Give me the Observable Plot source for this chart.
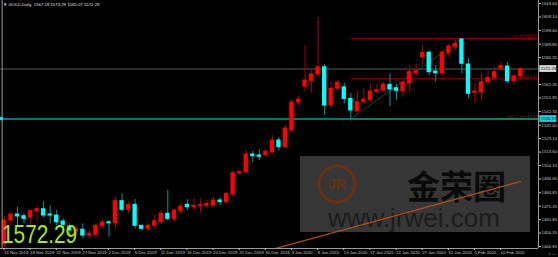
<!DOCTYPE html>
<html><head><meta charset="utf-8">
<script src="https://cdn.jsdelivr.net/npm/d3@7"></script>
<script src="https://cdn.jsdelivr.net/npm/@observablehq/plot@0.6"></script>
<style>
html,body{margin:0;padding:0;background:#000;}
#wrap{position:relative;width:558px;height:257px;overflow:hidden;background:#000;}
#wm{position:absolute;left:300px;top:156px;width:230px;height:76px;background:#363636;}
#chart{position:absolute;left:0;top:0;}
#title{position:absolute;left:3px;top:2px;font:4.3px "Liberation Sans",sans-serif;color:#e0e0e0;white-space:nowrap;}
#big{position:absolute;left:2px;top:219px;font:26px "Liberation Sans",sans-serif;color:#a8e81c;transform:scaleX(0.8);transform-origin:left top;white-space:nowrap;}
</style></head>
<body><div id="wrap">
<div id="wm">
  <svg width="230" height="76" style="position:absolute;left:0;top:0;overflow:visible">
    <circle cx="37" cy="28" r="18" fill="none" stroke="#6a3010" stroke-width="3"/>
    <text x="37" y="33" text-anchor="middle" font-family="Liberation Sans" font-weight="bold" font-size="14" fill="#6a3010">JR</text>
    <text x="107" y="43" font-family="Noto Sans CJK SC" font-weight="bold" font-size="33" fill="#0a0a0a">金荣圈</text>
    <text x="28" y="71" font-family="Liberation Sans" font-size="26" fill="#1c1c1c">www.jrwei.com</text>
  </svg>
</div>
<div id="chart"></div>
<div id="title">▼ GOLD,Daily&nbsp; 1567.18 1573.29 1565.07 1572.29</div>
<div id="big">1572.29</div>
</div>
<script>
const opens = [1448.3,1465.2,1469.5,1468.3,1467.2,1471.8,1473.2,1469.5,1468.8,1464.5,1461.0,1457.5,1458.7,1454.6,1455.3,1461.2,1464.0,1463.3,1478.9,1472.8,1476.3,1461.5,1459.4,1461.5,1464.0,1470.0,1466.4,1471.8,1476.3,1474.6,1475.6,1475.6,1475.8,1479.4,1478.2,1483.6,1498.7,1499.4,1511.9,1511.2,1511.4,1513.3,1521.8,1517.1,1528.9,1548.8,1559.9,1563.7,1568.4,1573.6,1546.5,1558.3,1559.4,1551.2,1542.5,1548.8,1550.5,1556.2,1557.1,1561.1,1558.7,1556.6,1562.3,1569.3,1580.6,1583.8,1570.5,1569.3,1583.5,1587.7,1593.2,1575.5,1555.5,1555.9,1563.0,1566.1,1572.5,1574.1,1563.7,1567.18];
const highs = [1468.1,1471.1,1474.6,1470.0,1472.8,1475.1,1478.7,1475.6,1472.3,1466.4,1462.9,1461.0,1462.9,1458.2,1462.9,1465.7,1465.2,1481.7,1484.1,1478.2,1480.1,1461.5,1462.9,1468.8,1472.3,1486.5,1473.5,1477.5,1479.9,1480.6,1480.6,1479.4,1481.7,1481.3,1485.2,1500.6,1500.6,1514.7,1514.2,1515.2,1515.9,1525.3,1523.9,1532.4,1550.7,1552.9,1588.9,1571.2,1608.7,1575.5,1563.0,1564.2,1562.3,1555.2,1557.1,1558.3,1561.8,1561.4,1563.0,1568.9,1561.4,1564.2,1574.8,1576.0,1588.9,1585.4,1574.8,1585.4,1590.1,1592.5,1593.91,1579.5,1561.8,1568.9,1571.2,1573.6,1577.1,1577.1,1568.9,1573.29];
const lows = [1446.2,1461.7,1461.7,1462.9,1461.7,1464.0,1467.2,1462.9,1461.7,1460.5,1454.6,1455.3,1452.3,1452.3,1452.3,1459.4,1453.4,1459.4,1471.1,1470.0,1459.4,1458.2,1458.2,1459.4,1462.4,1464.7,1464.0,1470.0,1472.3,1472.3,1470.4,1473.5,1474.6,1475.8,1477.0,1482.9,1497.0,1498.5,1506.4,1507.6,1510.0,1512.4,1514.7,1516.1,1527.4,1546.0,1555.9,1555.2,1566.3,1539.4,1546.0,1557.1,1547.7,1536.97,1540.6,1547.7,1548.8,1554.8,1555.9,1545.8,1550.0,1552.4,1555.9,1567.7,1574.8,1567.7,1563.0,1567.7,1580.6,1585.4,1568.9,1551.3,1547.7,1550.0,1560.6,1564.2,1571.2,1561.8,1560.6,1565.07];
const closes = [1465.2,1469.5,1468.1,1466.4,1471.8,1473.2,1468.8,1468.8,1464.0,1462.2,1458.2,1458.7,1454.6,1455.8,1461.5,1463.8,1463.3,1478.9,1472.8,1476.3,1461.5,1459.4,1461.5,1464.7,1470.0,1466.4,1472.3,1475.1,1474.6,1475.6,1476.1,1477.0,1479.4,1478.2,1484.1,1498.7,1499.4,1511.9,1510.7,1510.3,1513.8,1521.8,1517.1,1530.3,1548.6,1550.7,1564.2,1568.4,1573.6,1546.5,1558.3,1562.6,1551.2,1543.0,1548.8,1550.7,1556.4,1557.3,1561.1,1557.8,1556.9,1562.6,1570.1,1570.8,1583.8,1570.1,1569.3,1583.8,1588.2,1590.1,1576.0,1554.8,1556.4,1563.0,1566.1,1570.1,1574.5,1563.7,1567.2,1572.29];
const dateLabels = ["13 Nov 2019","18 Nov 2019","22 Nov 2019","27 Nov 2019","2 Dec 2019","6 Dec 2019","11 Dec 2019","16 Dec 2019","20 Dec 2019","25 Dec 2019","30 Dec 2019","3 Jan 2020","8 Jan 2020","13 Jan 2020","17 Jan 2020","22 Jan 2020","27 Jan 2020","31 Jan 2020","5 Feb 2020","10 Feb 2020"];
const priceTicks = [1618.60,1609.10,1599.60,1589.85,1580.35,1561.35,1551.85,1542.35,1532.60,1523.10,1513.60,1504.10,1494.60,1484.85,1475.35,1465.85,1456.35,1446.85];
const currentPrice = 1572.29;
const hLinePrice = 1536.97;
const fibLevels = [{pct:"0.0", price:1593.91},{pct:"50.0", price:1565.44},{pct:"100.0", price:1536.97}];
const fibStartBar = 53, fibEndBar = 70;
const trendLine = [{i:39.5, p:1443.0},{i:79, p:1492.8}];

const bars = opens.map((o,i)=>({i, o, h:highs[i], l:lows[i], c:closes[i], up: closes[i]>=o}));
const tickIdx = dateLabels.map((_,k)=>k*4);
const XMAX = 81.72;

const chart = Plot.plot({
  width: 558, height: 257,
  marginLeft: 0, marginRight: 20, marginTop: 0, marginBottom: 9,
  style: {background: "transparent", color: "#c8c8c8", fontFamily: "Liberation Sans", fontSize: "4.3px"},
  x: {type: "linear", domain: [-0.6, XMAX], axis: null},
  y: {domain: [1445.46, 1620.72], axis: null},
  marks: [
    Plot.ruleY([currentPrice], {stroke: "#5a5a5a", strokeWidth: 1}),
    Plot.ruleY(fibLevels, {y: "price", x1: fibStartBar, x2: XMAX, stroke: "#8b0000", strokeWidth: 1}),
    Plot.text(fibLevels, {x: XMAX, y: "price", text: d => `${d.pct}  =${d.price.toFixed(2)}`, textAnchor: "end", dx: -1, dy: -2.5, fill: "#a01010", fontSize: 4.3}),
    Plot.line([{i: fibStartBar, p: fibLevels[2].price},{i: fibEndBar, p: fibLevels[0].price}], {x: "i", y: "p", stroke: "#1a7050", strokeWidth: 1, strokeDasharray: "1.2,1.8"}),
    Plot.ruleY([hLinePrice], {stroke: "#0a9a9a", strokeWidth: 1.6}),
    Plot.line(trendLine, {x: "i", y: "p", stroke: "#b4501e", strokeWidth: 1.2, clip: true}),
    Plot.ruleX(bars, {x: "i", y1: "l", y2: "h", stroke: d => d.up ? "#b00000" : "#009a9a", strokeWidth: 1}),
    Plot.rect(bars, {x1: d => d.i - 0.33, x2: d => d.i + 0.33, y1: "o", y2: "c", fill: d => d.up ? "#ff0000" : "#00ffff", insetTop: -0.5, insetBottom: -0.5}),
    Plot.ruleX([XMAX], {stroke: "#9a9a9a", strokeWidth: 1}),
    Plot.ruleX([-0.35], {stroke: "#9a9a9a", strokeWidth: 1}),
    Plot.ruleY([1445.46], {stroke: "#9a9a9a", strokeWidth: 1}),
    Plot.axisY(priceTicks, {anchor: "right", tickSize: 2, tickPadding: 1, tickFormat: d => d.toFixed(2), fill: "#c8c8c8", fontSize: 4.3}),
    Plot.axisX(tickIdx, {anchor: "bottom", tickSize: 2, tickPadding: 0.5, tickFormat: i => dateLabels[i/4], textAnchor: "start", dx: -0.5, fill: "#c8c8c8", fontSize: 4.3}),
    Plot.rect([currentPrice], {x1: XMAX + 0.2, x2: XMAX + 2.8, y1: d => d - 2.4, y2: d => d + 2.4, fill: "#d8d8d8"}),
    Plot.text([currentPrice], {x: XMAX + 0.35, y: d => d, text: d => d.toFixed(2), textAnchor: "start", fill: "#000", fontSize: 4.3}),
    Plot.rect([hLinePrice], {x1: XMAX + 0.2, x2: XMAX + 2.8, y1: d => d - 2.4, y2: d => d + 2.4, fill: "#1ed0d0"}),
    Plot.text([hLinePrice], {x: XMAX + 0.35, y: d => d, text: d => d.toFixed(2), textAnchor: "start", fill: "#003030", fontSize: 4.3}),
    Plot.rect([hLinePrice], {x1: -0.6, x2: -0.15, y1: d => d - 1.2, y2: d => d + 1.2, fill: "#1ee0e0"})
  ]
});
document.getElementById("chart").appendChild(chart);
</script>
</body></html>
